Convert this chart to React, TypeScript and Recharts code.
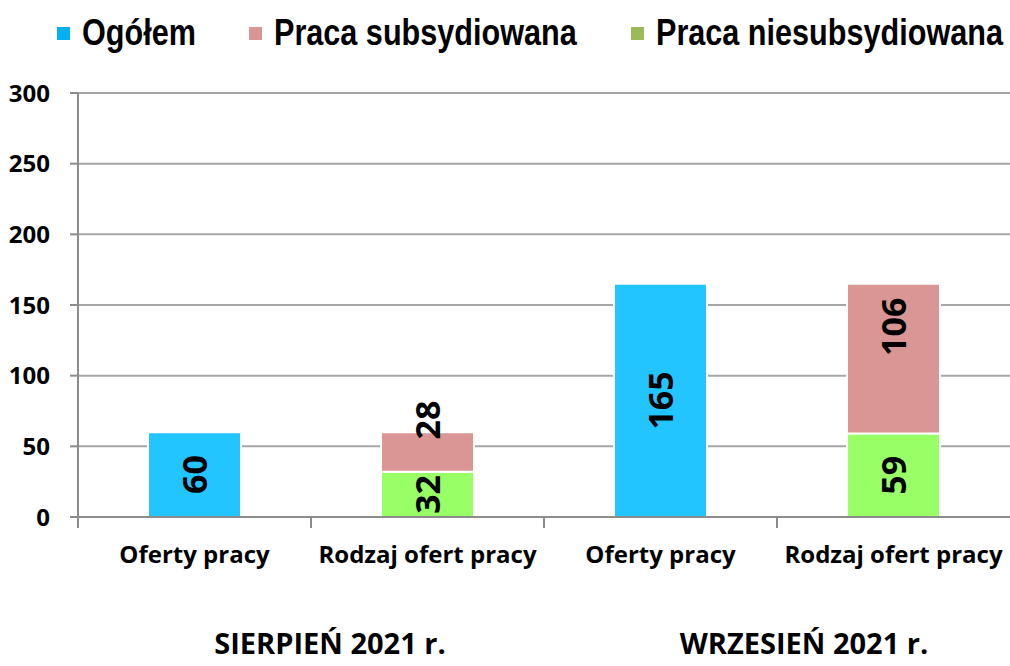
import { BarChart, Bar, XAxis, YAxis, CartesianGrid, LabelList } from 'recharts'

const categories = ['Oferty pracy', 'Rodzaj ofert pracy', 'Oferty pracy', 'Rodzaj ofert pracy']
const ogolem = [60, null, 165, null]
const subsydiowana = [null, 28, null, 106]
const niesubsydiowana = [null, 32, null, 59]
const yTicks = [0, 50, 100, 150, 200, 250, 300]
const groupLabels = ['SIERPIEŃ 2021 r.', 'WRZESIEŃ 2021 r.']

const COLORS = {
  ogolem: '#22C5FF',
  sub: '#D99694',
  niesub: '#99FF66',
  legendOgolem: '#00B0F0',
  legendSub: '#D99694',
  legendNiesub: '#9BBB59',
  grid: '#A6A6A6',
  axis: '#8C8C8C',
}

const W = 1010
const H = 666
const PLOT_LEFT = 78
const BAND = (W - PLOT_LEFT) / categories.length

const legendItems = [
  { label: 'Ogółem', color: COLORS.legendOgolem, left: 57 },
  { label: 'Praca subsydiowana', color: COLORS.legendSub, left: 249 },
  { label: 'Praca niesubsydiowana', color: COLORS.legendNiesub, left: 631 },
]

const data = categories.map((c, i) => ({
  name: c,
  ogolem: ogolem[i],
  sub: subsydiowana[i],
  niesub: niesubsydiowana[i],
}))

const labelFont = '"Open Sans", "DejaVu Sans", sans-serif'

function makeLabel(shift: number) {
  return (props: any) => {
    const { x, y, width, height, value } = props
    if (value == null) return null
    const cx = Number(x) + Number(width) / 2
    const cy = Number(y) + Number(height) / 2 + shift
    return (
      <text
        x={cx}
        y={cy}
        transform={`rotate(-90 ${cx} ${cy})`}
        textAnchor="middle"
        dominantBaseline="central"
        fontFamily={labelFont}
        fontWeight={700}
        fontSize={34}
        fill="#000"
      >
        {value}
      </text>
    )
  }
}

function XTick(props: any) {
  const { x, y, payload } = props
  const bx = x - BAND / 2
  return (
    <g>
      <line x1={bx} y1={y - 8} x2={bx} y2={y + 3} stroke={COLORS.axis} strokeWidth={2} />
      <text x={x} y={y + 38} textAnchor="middle" fontFamily={labelFont} fontWeight={700} fontSize={24} fill="#000">
        {payload.value}
      </text>
    </g>
  )
}

export default function App() {
  return (
    <div style={{ position: 'absolute', left: 0, top: 0, width: W, height: H, background: '#fff', overflow: 'hidden' }}>
      {legendItems.map((it) => (
        <div key={it.label} style={{ position: 'absolute', left: it.left, top: 11, height: 44, display: 'flex', alignItems: 'center' }}>
          <span style={{ width: 13, height: 13, background: it.color, display: 'inline-block', marginRight: 12 }} />
          <span style={{
            fontFamily: '"Liberation Sans", Arial, sans-serif',
            fontWeight: 700, fontSize: 36, color: '#000', lineHeight: '44px',
            whiteSpace: 'nowrap', display: 'inline-block',
            transform: 'scaleX(0.85)', transformOrigin: 'left center',
          }}>{it.label}</span>
        </div>
      ))}
      <BarChart width={W} height={H} data={data} margin={{ top: 93, right: 0, bottom: 89, left: 8 }}>
        <CartesianGrid vertical={false} stroke={COLORS.grid} strokeWidth={2} />
        <XAxis
          dataKey="name"
          allowDuplicatedCategory
          height={60}
          tickLine={false}
          axisLine={{ stroke: COLORS.axis, strokeWidth: 2 }}
          tick={<XTick />}
          interval={0}
        />
        <YAxis
          width={70}
          domain={[0, 300]}
          ticks={yTicks}
          interval={0}
          tickSize={8}
          tickLine={{ stroke: COLORS.axis, strokeWidth: 2 }}
          axisLine={{ stroke: COLORS.axis, strokeWidth: 2 }}
          tick={{ fill: '#000', fontFamily: labelFont, fontWeight: 700, fontSize: 24 }}
          tickMargin={20}
        />
        <Bar dataKey="niesub" stackId="a" fill={COLORS.niesub} stroke="#fff" strokeWidth={2} barSize={93} isAnimationActive={false}>
          <LabelList dataKey="niesub" content={makeLabel(0)} />
        </Bar>
        <Bar dataKey="sub" stackId="a" fill={COLORS.sub} stroke="#fff" strokeWidth={2} barSize={93} isAnimationActive={false}>
          <LabelList dataKey="sub" content={makeLabel(-32)} />
        </Bar>
        <Bar dataKey="ogolem" stackId="a" fill={COLORS.ogolem} stroke="#fff" strokeWidth={2} barSize={93} isAnimationActive={false}>
          <LabelList dataKey="ogolem" content={makeLabel(0)} />
        </Bar>
      </BarChart>
      {groupLabels.map((g, i) => (
        <div
          key={g}
          style={{
            position: 'absolute',
            top: 628,
            left: i === 0 ? 330 : 804,
            transform: 'translateX(-50%)',
            fontFamily: labelFont,
            fontWeight: 700,
            fontSize: 29,
            lineHeight: '30px',
            whiteSpace: 'nowrap',
            color: '#000',
          }}
        >
          {g}
        </div>
      ))}
    </div>
  )
}
